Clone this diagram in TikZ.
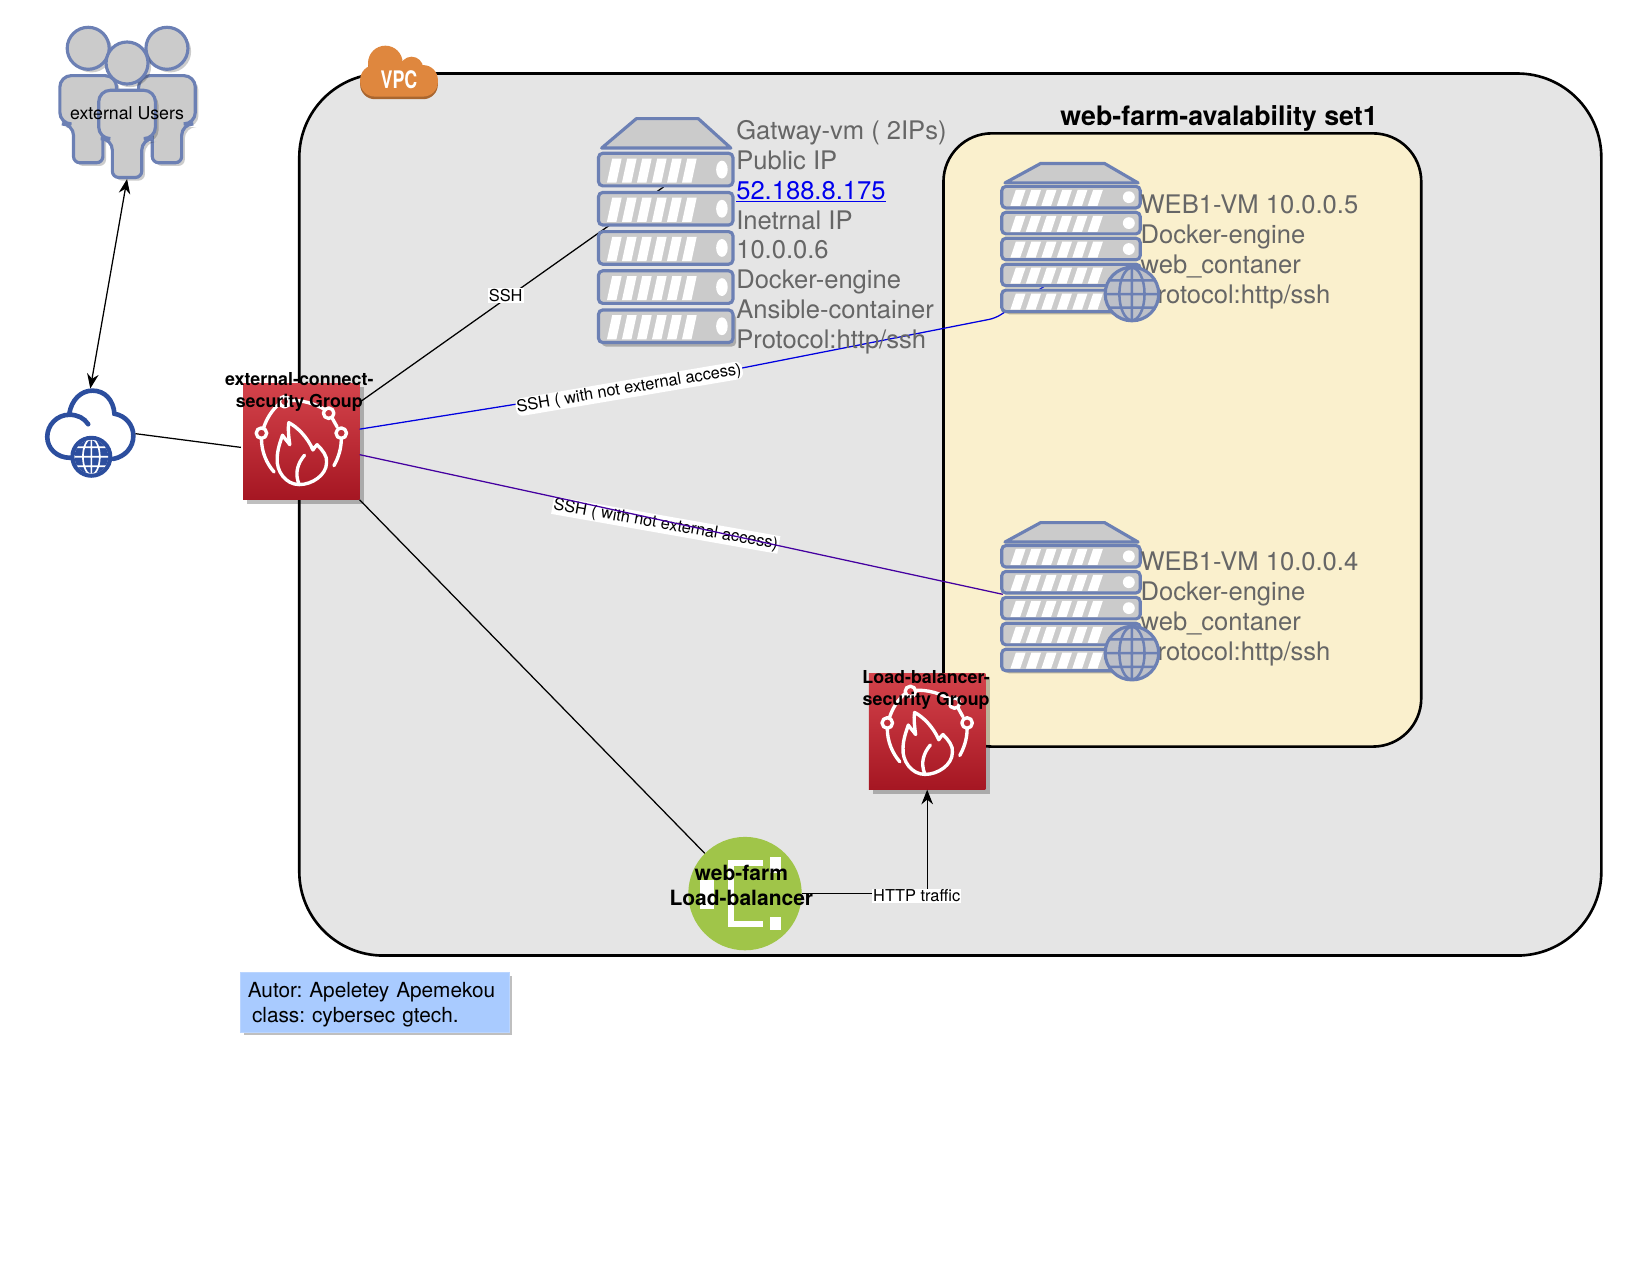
\documentclass[tikz,border=0pt]{standalone}
\usepackage{fontspec}
\setmainfont{TeX Gyre Heros}
\frenchspacing
\usetikzlibrary{arrows.meta, calc, positioning, shadows}

\definecolor{vpcgray}{HTML}{E5E5E5}
\definecolor{farmyellow}{HTML}{FAF0CD}
\definecolor{rackblue}{HTML}{6C80B4}
\definecolor{rackgray}{HTML}{CBCBCB}
\definecolor{cloudblue}{HTML}{2C4E9E}
\definecolor{fwtop}{HTML}{D4434B}
\definecolor{fwbottom}{HTML}{A51622}
\definecolor{vpcorange}{HTML}{DF873E}
\definecolor{vpcdark}{HTML}{A9662F}
\definecolor{lbgreen}{HTML}{A0C549}
\definecolor{notefill}{HTML}{A9CBFF}
\definecolor{linkblue}{HTML}{0000EE}
\definecolor{sshblue}{HTML}{0000E0}
\definecolor{sshviolet}{HTML}{4400A0}
\definecolor{vmgray}{HTML}{666666}

\tikzset{
  x=1pt, y=-1pt,
  personfig/.pic={
    \fill[black, opacity=.2] (3,3) circle (20);
    \fill[black, opacity=.2, rounded corners=11] (-24,29) -- (30,29) -- (30,75) -- (17,75)
        [rounded corners=6] -- (17,112) -- (-11,112) [rounded corners=11] -- (-11,75) -- (-24,75) -- cycle;
    \draw[line width=3pt, draw=rackblue, fill=rackgray] (0,0) circle (20);
    \draw[line width=3pt, draw=rackblue, fill=rackgray, rounded corners=11] (-27,26) -- (27,26)
        -- (27,72) -- (14,72) [rounded corners=6] -- (14,109) -- (-14,109) [rounded corners=11]
        -- (-14,72) -- (-27,72) -- cycle;
  },
  rackfig/.pic={
    \fill[black, opacity=.25, rounded corners=4] (3,187) rectangle ++(128,31);
    \draw[line width=3pt, draw=rackblue, fill=rackgray, line join=round]
        (3,29) -- (36,1) -- (95,1) -- (126,29) -- cycle;
    \foreach \u in {0,...,4} {
      \pgfmathsetmacro\uy{34+37.3*\u}
      \draw[line width=3pt, draw=rackblue, fill=rackgray, rounded corners=4]
          (0,\uy) rectangle ++(128,31);
      \foreach \s in {0,...,5}
        \fill[white] ({8+14.3*\s},\uy+28) -- ++(9,0) -- ++(5,-23) -- ++(-9,0) -- cycle;
      \fill[white] (117.5,\uy+15.5) ellipse [x radius=5.5, y radius=8.5];
    }
  },
  globefig/.pic={
    \draw[line width=3pt, draw=rackblue, fill=rackgray!85!rackblue] (0,0) circle (25.5);
    \draw[line width=2.4pt, draw=rackblue] (0,0) ellipse [x radius=12, y radius=25]
        (0,-25) -- (0,25) (-25,0) -- (25,0) (-21,-13) -- (21,-13) (-21,13) -- (21,13);
  },
  webglobe/.pic={
    \draw[line width=4pt, draw=cloudblue, fill=white] (0,0) circle (18);
    \begin{scope}
      \clip (0,0) circle (16);
      \fill[cloudblue] (-16,-16) rectangle (16,16);
      \draw[line width=1.6pt, draw=white] (0,0) ellipse [x radius=8, y radius=17]
          (0,-17) -- (0,17) (-17,0) -- (17,0) (-17,-9) -- (17,-9) (-17,9) -- (17,9);
    \end{scope}
  },
  flamefig/.pic={
    \draw[line width=3.2pt, draw=white, line cap=round, line join=round]
        (-38,-8) circle (5) (38,-8) circle (5) (-16,-38) circle (5) (26,-27) circle (5)
        (-38,-3) .. controls (-38,10) and (-33,21) .. (-26,29)
        (-36,-13) .. controls (-33,-22) and (-28,-30) .. (-21,-36)
        (-11,-39) .. controls (-1,-40) and (14,-36) .. (23,-30)
        (29,-23) -- (34,-14)
        (38,-2) .. controls (38,7) and (35,16) .. (31,23)
        (-2,41) .. controls (-15,41) and (-24,28) .. (-23,16)
        .. controls (-23,8) and (-20,0) .. (-18,-6)
        .. controls (-16,-3) and (-13,0) .. (-11,3)
        .. controls (-12,-4) and (-13,-12) .. (-12,-18)
        .. controls (-4,-14) and (6,-4) .. (11,8)
        .. controls (12,6) and (14,4) .. (15,3)
        .. controls (20,8) and (25,14) .. (24,20)
        .. controls (24,32) and (10,41) .. (-2,41)
        .. controls (-7,30) and (-3,20) .. (3,13);
  },
}

\begin{document}
\begin{tikzpicture}[
   node distance = 0pt,
      slot/.style 2 args = {inner sep=0pt, outer sep=0pt, minimum width=#1, minimum height=#2},
  firewall/.style = {slot={111pt}{111pt}, top color=fwtop, bottom color=fwbottom,
                     general shadow={shadow xshift=4pt, shadow yshift=-4pt, fill=black, opacity=.25}},
    vmtext/.style = {align=left, inner sep=0pt, text=vmgray,
                     font=\fontsize{24.35}{28.4}\selectfont},
   fwlabel/.style = {align=center, inner sep=0pt,
                     font=\bfseries\fontsize{17}{20.5}\selectfont},
   lblabel/.style = {align=center, inner sep=0pt,
                     font=\bfseries\fontsize{20}{23.5}\selectfont},
  linklabel/.style = {fill=white, inner sep=1pt, font=\fontsize{15.6}{18}\selectfont},
      link/.style = {line width=1.2pt}
                    ]
  \useasboundingbox (0,0) rectangle (1568.5,1215.2);

  \node (vpc) [draw, fill=vpcgray, line width=2.5pt, rounded corners=80pt,
               slot={1240pt}{840pt}] at (905,490) {};
  \node (farm) [draw, fill=farmyellow, line width=2.5pt, rounded corners=46pt,
                slot={455pt}{584pt}] at (1126,419) {};
  \node (farmtitle) [inner sep=0pt, font=\bfseries\fontsize{25.5}{30}\selectfont,
                     above=2pt of farm, xshift=35pt] {web-farm-avalability set1};

  \foreach \col/\dy in {vpcdark/2.5, vpcorange/0} {
    \fill[\col, rounded corners=14] (343,{62+\dy}) rectangle (417,{92+\dy});
    \fill[\col] (367,{60+\dy}) circle (16.5) (392,{65+\dy}) circle (11);
  }
  \node (vpcbadge) [transform shape, xscale=.74, inner sep=0pt, text=white,
                    font=\bfseries\fontsize{23}{26}\selectfont] at (380,76) {VPC};

  \node (users) [slot={130pt}{145pt}] at (121,98) {};
  \pic at (84,46) {personfig};
  \pic at (159,46) {personfig};
  \pic at (121,60) {personfig};
  \node (userstext) [inner sep=0pt, font=\fontsize{16.9}{20}\selectfont] at (121,108) {external Users};

  \node (cloud) [slot={86pt}{86pt}] at (86,413) {};
  \draw[line width=4.4pt, draw=cloudblue, line cap=round]
      (67,436) .. controls (54,436) and (45,427) .. (45,416)
      .. controls (45,405) and (54,395) .. (66,395)
      .. controls (74,395) and (80,398) .. (84,404)
      (66,394) .. controls (68,381) and (77,372) .. (88,372)
      .. controls (100,372) and (108,381) .. (109,394)
      .. controls (120,396) and (127,405) .. (127,415)
      .. controls (127,426) and (119,435) .. (108,437);
  \pic at (87,435) {webglobe};
  \draw[link, {Stealth[length=14pt, width=11pt]}-{Stealth[length=14pt, width=11pt]}]
      (users.south) -- (cloud.north);

  \node (gw) [slot={128pt}{216pt}] at (634,220) {};
  \node (web1) [slot={132pt}{143pt}] at (1020,226) {};
  \node (web2) [slot={132pt}{143pt}] at (1020,568) {};
  \node (fw1) [firewall] at (287,420.5) {};
  \node (fw2) [firewall] at (883,696.5) {};
  \node (lb) [circle, fill=lbgreen, inner sep=0pt, minimum size=108pt] at (709.5,851) {};

  \coordinate (gwin) at (632,178);
  \coordinate (bluea) at (704,351);
  \coordinate (blueb) at (948,303);
  \coordinate (web1in) at (994,273);
  \coordinate (web2in) at (955,566);

  \draw[link, shorten >=2pt] (cloud.east) -- (fw1.186);
  \draw[link] (fw1.34) -- (gwin) node[linklabel, pos=.47, xshift=3pt, yshift=5pt] (sshgw) {SSH};
  \draw[link, draw=sshblue, rounded corners=6] (fw1.12) -- (bluea)
      node[linklabel, pos=.71, yshift=-2.5pt, rotate=9.6] (sshweb1) {SSH ( with not external access)}
      -- (blueb) -- (web1in);
  \node (sshweb2) [linklabel, rotate=-10] at (634,500) {SSH ( with not external access)};
  \draw[link, draw=sshviolet] (fw1.east |- 0,433) -- (web2in);
  \draw[link] (fw1.south east) -- (lb.135);

  \pic at (570,112) {rackfig};
  \pic [xscale=1.03, yscale=.662] at (954,155) {rackfig};
  \pic [xscale=1.03, yscale=.662] at (954,497) {rackfig};

  \node (gwtext) [vmtext, right=3pt of gw, yshift=-6pt]
      {Gatway-vm ( 2IPs)\\Public IP\\\textcolor{linkblue}{\underline{52.188.8.175}}\\Inetrnal IP\\10.0.0.6\\Docker-engine\\Ansible-container\\Protocol:http/ssh};
  \node (web1text) [vmtext, right=0pt of web1, yshift=-14pt]
      {WEB1-VM 10.0.0.5\\Docker-engine\\web\_contaner\\Protocol:http/ssh};
  \node (web2text) [vmtext, right=0pt of web2, yshift=-12pt]
      {WEB1-VM 10.0.0.4\\Docker-engine\\web\_contaner\\Protocol:http/ssh};
  \pic at (1078,280) {globefig};
  \pic at (1078,622) {globefig};

  \pic at (fw1) {flamefig};
  \pic at (fw2) {flamefig};
  \node (fw1text) [fwlabel] at (285,373.5) {external-connect-\\security Group};
  \node (fw2text) [fwlabel] at (882,657) {Load-balancer-\\security Group};

  \foreach \bx/\by/\bw/\bh in {-43/-13/13/28, 24/-35/10.5/15, 24/22/10.5/13,
                               -16/-32/5.5/64, -16/-32/33/6, -16/26/33/6}
    \fill[white] ($(lb)+(\bx,\by)$) rectangle ++(\bw,\bh);
  \node (lbtext) [lblabel] at (706,843.5) {web-farm\\Load-balancer};

  \draw[link, -{Stealth[length=14pt, width=11pt]}] (lb.east) -| (fw2.south)
      node[linklabel, pos=.5, xshift=-10pt, yshift=-2pt] (http) {HTTP traffic};

  \node (note) [fill=notefill, draw=notefill!80!white, align=left, inner ysep=0pt, inner xsep=7pt,
                text width=242pt, minimum height=57pt,
                general shadow={shadow xshift=3pt, shadow yshift=-3pt, fill=black, opacity=.25},
                font=\fontsize{19.8}{24}\selectfont] at (357,954.5)
      {\rule{0pt}{19pt}Autor: Apeletey Apemekou\\\hspace*{4pt}class: cybersec gtech.};
\end{tikzpicture}
\end{document}
